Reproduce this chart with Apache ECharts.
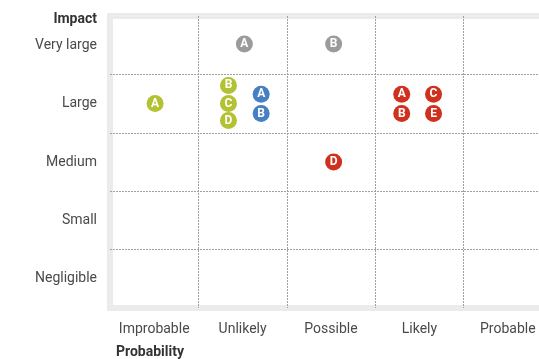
<!DOCTYPE html>
<html>
<head>
<meta charset="utf-8">
<script src="https://cdn.jsdelivr.net/npm/echarts@6/dist/echarts.min.js"></script>
<style>
  html, body { margin: 0; padding: 0; background: #fff; }
  #chart { width: 539px; height: 359px; }
</style>
</head>
<body>
<div id="chart"></div>
<script>
const probabilities = ["Improbable", "Unlikely", "Possible", "Likely", "Probable"];
const impacts = ["Negligible", "Small", "Medium", "Large", "Very large"];

// [letter, x position (0-5 across probability), y position (0-5 up impact)]
const greyRisks = [["A", 1.52, 4.52], ["B", 2.53, 4.52]];
const greenRisks = [["A", 0.51, 3.5], ["B", 1.34, 3.81], ["C", 1.34, 3.5], ["D", 1.34, 3.21]];
const blueRisks = [["A", 1.71, 3.66], ["B", 1.71, 3.33]];
const redRisks = [["A", 3.3, 3.66], ["B", 3.3, 3.33], ["C", 3.66, 3.66], ["E", 3.66, 3.33], ["D", 2.53, 2.5]];

const chart = echarts.init(document.getElementById("chart"));

const fontFamily = "Roboto";
const dashed = { color: "#a0a0a0", type: [2, 1], width: 1 };

function riskSeries(name, list, color) {
  return {
    name: name,
    type: "scatter",
    xAxisIndex: 1,
    yAxisIndex: 1,
    symbolSize: 17,
    itemStyle: { color: color, opacity: 1 },
    label: {
      show: true,
      position: "inside",
      formatter: (p) => p.data[2],
      color: "#fff",
      fontWeight: "bold",
      fontSize: 12,
      fontFamily: fontFamily,
    },
    data: list.map((r) => [r[1], r[2], r[0]]),
  };
}

chart.setOption({
  animation: false,
  grid: {
    show: true,
    left: 110,
    top: 16,
    width: 442,
    height: 292,
    outerBoundsMode: "none",
    containLabel: false,
    backgroundColor: "#fff",
    borderColor: "#ebebeb",
    borderWidth: 6,
  },
  xAxis: [
    {
      type: "category",
      data: probabilities,
      axisLine: { show: false },
      axisTick: { show: false },
      axisLabel: { interval: 0, color: "#4a4a4a", fontSize: 14, fontFamily: fontFamily, margin: 14 },
      splitLine: { show: true, interval: 0, showMinLine: false, showMaxLine: false, lineStyle: dashed },
    },
    { type: "value", min: 0, max: 5, show: false },
  ],
  yAxis: [
    {
      type: "category",
      data: impacts,
      axisLine: { show: false },
      axisTick: { show: false },
      axisLabel: { interval: 0, color: "#4a4a4a", fontSize: 14, fontFamily: fontFamily, margin: 13 },
      splitLine: { show: true, interval: 0, showMinLine: false, showMaxLine: false, lineStyle: dashed },
    },
    { type: "value", min: 0, max: 5, show: false },
  ],
  graphic: [
    {
      type: "text",
      right: 442,
      top: 12,
      style: { text: "Impact", fill: "#333", font: "bold 14px " + fontFamily },
    },
    {
      type: "text",
      left: 116,
      top: 345,
      style: { text: "Probability", fill: "#333", font: "bold 14px " + fontFamily },
    },
  ],
  series: [
    riskSeries("Grey", greyRisks, "#9b9b9b"),
    riskSeries("Green", greenRisks, "#b3c232"),
    riskSeries("Blue", blueRisks, "#467fc2"),
    riskSeries("Red", redRisks, "#d0311f"),
  ],
});
</script>
</body>
</html>
